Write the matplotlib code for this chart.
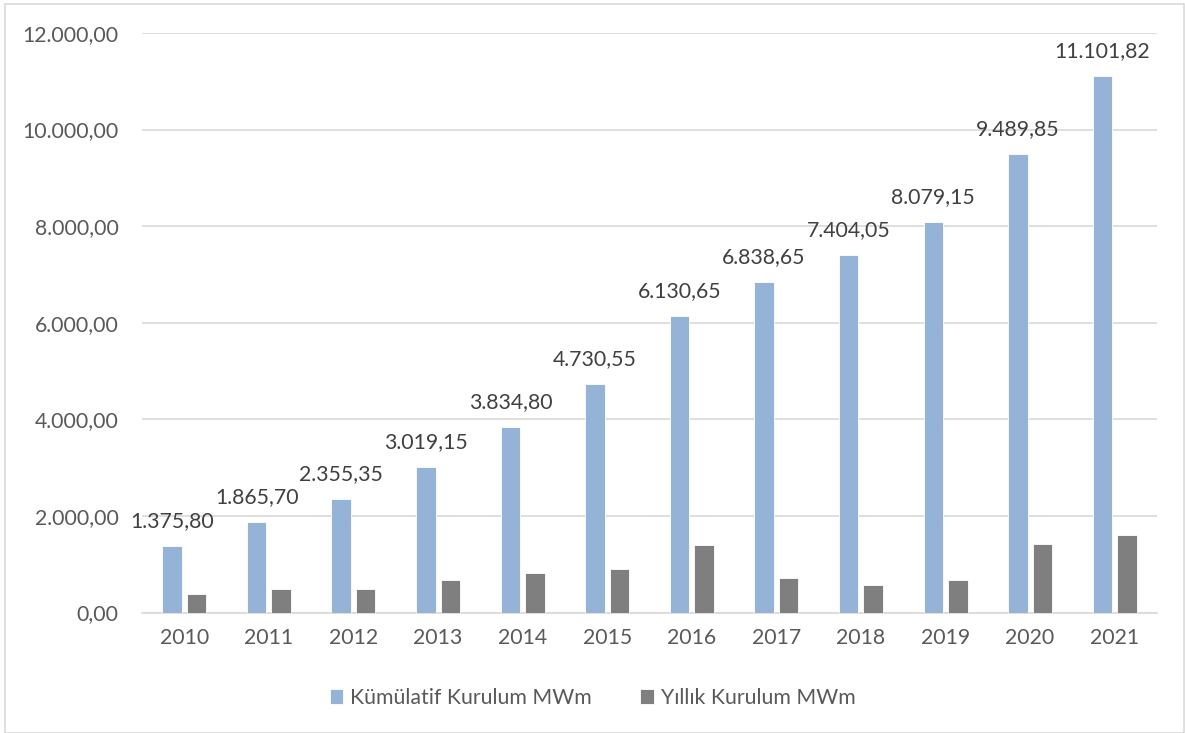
import matplotlib.pyplot as plt
from matplotlib.patches import Rectangle
import numpy as np

# --- veriler ---
years = ["2010", "2011", "2012", "2013", "2014", "2015",
         "2016", "2017", "2018", "2019", "2020", "2021"]
kumulatif = [1375.80, 1865.70, 2355.35, 3019.15, 3834.80, 4730.55,
             6130.65, 6838.65, 7404.05, 8079.15, 9489.85, 11101.82]
yillik = [384, 489.9, 489.65, 663.8, 815.65, 895.75,
          1400.1, 708, 565.4, 675.1, 1410.7, 1611.97]
yticks = [0, 2000, 4000, 6000, 8000, 10000, 12000]


def tr_fmt(v):
    # 1375.8 -> "1.375,80"
    s = f"{v:,.2f}"
    return s.replace(",", "X").replace(".", ",").replace("X", ".")


plt.rcParams['font.family'] = ['Lato', 'DejaVu Sans']

fig = plt.figure(figsize=(11.85, 7.33), dpi=100)
ax = fig.add_axes([142 / 1185, 1 - 612.5 / 733, 1015 / 1185, 579.5 / 733])

x = np.arange(len(years))
w = 0.23
ax.bar(x - 0.145, kumulatif, w, color='#95B3D7', edgecolor='white', linewidth=0.6,
       label='Kümülatif Kurulum MWm', zorder=3)
ax.bar(x + 0.145, yillik, w, color='#7F7F7F', edgecolor='white', linewidth=0.6,
       label='Yıllık Kurulum MWm', zorder=3)

for xi, v in zip(x, kumulatif):
    ax.annotate(tr_fmt(v), (xi - 0.145, v), xytext=(0, 18), textcoords='offset points',
                ha='center', va='center', fontsize=15.3, color='#404040')

ax.set_xlim(-0.5, len(years) - 0.5)
ax.set_ylim(0, 12000)
ax.set_yticks(yticks)
ax.set_yticklabels([tr_fmt(t) for t in yticks])
ax.set_xticks(x)
ax.set_xticklabels(years)
ax.tick_params(length=0, labelsize=15.3, labelcolor='#595959')
ax.tick_params(axis='y', pad=17)
ax.tick_params(axis='x', pad=11)
ax.grid(axis='y', color='#D9D9D9', linewidth=1.2, zorder=0)
for s in ['top', 'right', 'left']:
    ax.spines[s].set_visible(False)
ax.spines['bottom'].set_color('#D9D9D9')
ax.spines['bottom'].set_linewidth(1.2)

leg = fig.legend(loc='center', bbox_to_anchor=(0.5, 1 - 698 / 733), ncol=2, frameon=False,
                 fontsize=15.3, handlelength=0.65, handleheight=0.65, handletextpad=0.3,
                 columnspacing=2.3)
for t in leg.get_texts():
    t.set_color('#595959')

# dış çerçeve
fig.patches.append(Rectangle((5 / 1185, 0), 1 - 6 / 1185, 1 - 3.5 / 733,
                             transform=fig.transFigure, fill=False,
                             edgecolor='#D9D9D9', linewidth=1.2))

fig.savefig('out.png', dpi=100)
